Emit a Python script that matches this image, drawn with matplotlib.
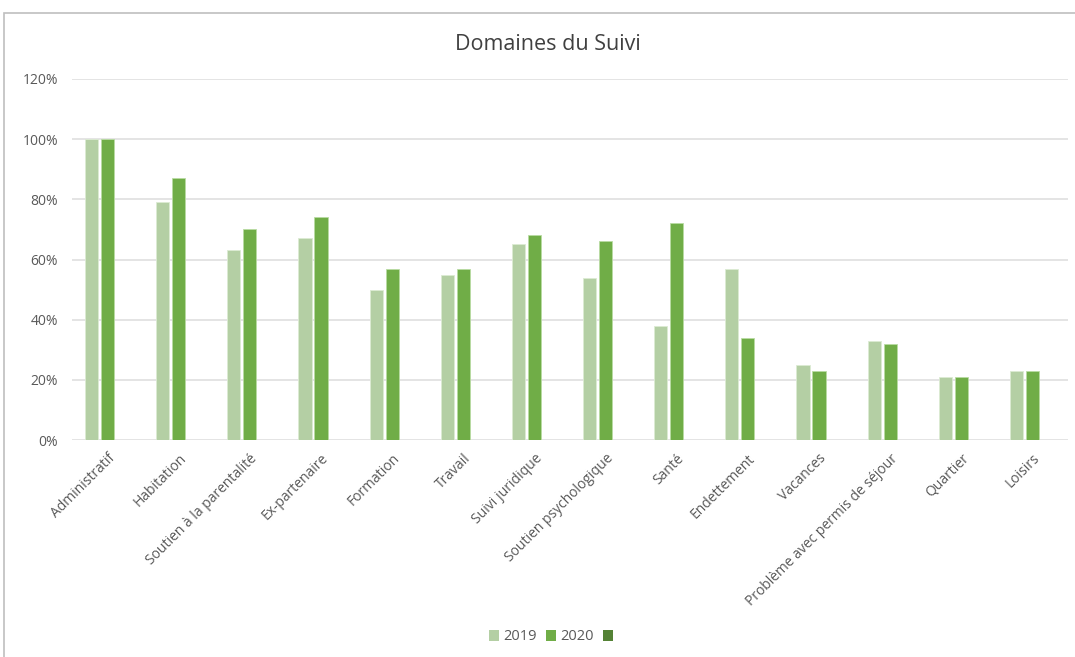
import matplotlib
matplotlib.use("Agg")
import matplotlib.pyplot as plt
import numpy as np
from matplotlib.patches import Rectangle, Patch
from matplotlib.ticker import PercentFormatter

categories = ["Administratif", "Habitation", "Soutien à la parentalité", "Ex-partenaire",
              "Formation", "Travail", "Suivi juridique", "Soutien psychologique", "Santé",
              "Endettement", "Vacances", "Problème avec permis de séjour", "Quartier", "Loisirs"]
values_2019 = [100, 79, 63, 67, 50, 55, 65, 54, 38, 57, 25, 33, 21, 23]
values_2020 = [100, 87, 70, 74, 57, 57, 68, 66, 72, 34, 23, 32, 21, 23]
series_labels = ["2019", "2020", ""]
yticks = [0, 20, 40, 60, 80, 100, 120]

c2019 = "#B4CFA4"
c2020 = "#70AD47"
c3 = "#548235"
text_grey = "#595959"
grid_grey = "#DDDDDD"

plt.rcParams['font.family'] = ['Open Sans', 'DejaVu Sans']

fig = plt.figure(figsize=(10.75, 6.57), dpi=100)
ax = fig.add_axes([72/1075, 1-440/657, (1068-72)/1075, (440-79)/657])

x = np.arange(len(categories))
w = 0.185
step = 0.225
ax.bar(x - step, np.array(values_2019)/100, width=w, color=c2019, edgecolor="#DCEBD3", linewidth=0.6, zorder=3)
ax.bar(x, np.array(values_2020)/100, width=w, color=c2020, edgecolor="#B9DCA3", linewidth=0.6, zorder=3)

ax.set_xlim(-0.5, len(categories) - 0.5)
ax.set_ylim(0, 1.2)
ax.set_yticks(np.array(yticks)/100)
ax.yaxis.set_major_formatter(PercentFormatter(1.0, decimals=0))
ax.grid(axis='y', color=grid_grey, linewidth=1.1, zorder=0)
ax.set_axisbelow(True)
for s in ax.spines.values():
    s.set_visible(False)
ax.tick_params(axis='both', length=0, colors=text_grey, labelsize=10)
ax.tick_params(axis='y', pad=10)
ax.set_xticks(x)
ax.set_xticklabels(categories, rotation=45, ha='right', rotation_mode='anchor', color=text_grey, fontsize=10)
ax.tick_params(axis='x', pad=8)

fig.text(548/1075, 1-44/657, "Domaines du Suivi", ha='center', va='center', fontsize=15.5, color="#404040")

handles = [Patch(facecolor=c2019), Patch(facecolor=c2020), Patch(facecolor=c3)]
fig.legend(handles, series_labels, loc='center', bbox_to_anchor=(553/1075, 1-637/657), ncol=3,
           frameon=False, fontsize=10.5, labelcolor=text_grey, handlelength=0.7, handleheight=0.7,
           handletextpad=0.3, columnspacing=0.6)

fig.patches.append(Rectangle((4/1075, -0.1), 1.2, (1-13/657) + 0.1, transform=fig.transFigure,
                             fill=False, edgecolor="#BFBFBF", linewidth=1.2))

fig.savefig("out.png", dpi=100)
